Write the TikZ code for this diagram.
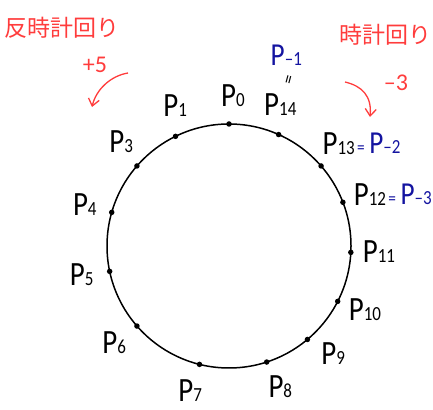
\documentclass[tikz,border=0pt]{standalone}
\usepackage{fontspec}
\setmainfont{Carlito}
\newfontfamily\jpfont{Noto Sans CJK JP}
\usepackage{graphicx}
\usepackage{xcolor}
\usepackage{tikz}
\usetikzlibrary{arrows.meta, positioning, calc}

\definecolor{penred}{HTML}{FF3C3C}
\definecolor{penblue}{HTML}{1414A0}

\newcommand{\Psub}[1]{\scalebox{0.85}[1]{P{\fontsize{20}{20}\selectfont #1}}}
\newcommand{\Peq}[1]{\scalebox{0.85}[1]{{\fontsize{18}{18}\selectfont =}\,P{\fontsize{20}{20}\selectfont #1}}}

\begin{document}
\begin{tikzpicture}[
    x=1pt, y=1pt,
    ring/.style={line width=1.5pt},
    dot/.style={circle, fill=black, inner sep=0pt, minimum size=5.5pt},
    plabel/.style={inner sep=0pt, font=\fontsize{34}{34}\selectfont},
    alias/.style={inner sep=0pt, text=penblue, font=\fontsize{32}{32}\selectfont},
    redtext/.style={inner sep=0pt, text=penred, font=\fontsize{24}{24}\selectfont},
    jplabel/.style={inner sep=0pt, text=penred, font=\jpfont\fontsize{23}{23}\selectfont},
    redarrow/.style={penred, line width=1.3pt, -{Straight Barb[length=7pt, width=11pt]}}
]
\useasboundingbox (0,0) rectangle (433,409);

% the ring of points
\coordinate (c) at (229,163);
\draw[ring] (c) circle (122);

\foreach \nm/\da/\la in {0/90/88.5, 1/116/111, 3/139/136, 4/164/164, 5/192/191,
                         6/221/220, 7/256/255, 8/288/290, 9/310/314, 10/333/335,
                         11/357/358, 12/21/20, 13/41/43, 14/66/70}{
  \node[dot] (d\nm) at ($(c)+(\da:122)$) {};
  \node[plabel] (p\nm) at ($(c)+(\la:150)$) {\Psub{\nm}};
}

% negative indices
\node[alias, right=2pt of p13] (m2) {\Peq{--2}};
\node[alias, right=2pt of p12] (m3) {\Peq{--3}};
\node[alias, above=28pt of p14, xshift=6pt] (m1) {\Psub{--1}};
\node[rotate=75, font=\fontsize{18}{18}\selectfont, inner sep=0pt] (same) at ($(p14.north)!0.5!(m1.south)+(7,0)$) {=};

% counter-clockwise
\node[jplabel] (ccw) at (62,381) {反時計回り};
\node[redtext] (plus) at (95,344) {+5};
\coordinate (ccw-from) at (128,336);
\coordinate (ccw-to) at (92,302);
\draw[redarrow] (ccw-from) .. controls (110,333) and (96,319) .. (ccw-to);

% clockwise
\node[jplabel] (cw) at (385,374) {時計回り};
\node[redtext] (minus) at (396,326) {--3};
\coordinate (cw-from) at (345,327);
\coordinate (cw-to) at (370,292);
\draw[redarrow] (cw-from) .. controls (362,323) and (372,313) .. (cw-to);

\end{tikzpicture}
\end{document}
